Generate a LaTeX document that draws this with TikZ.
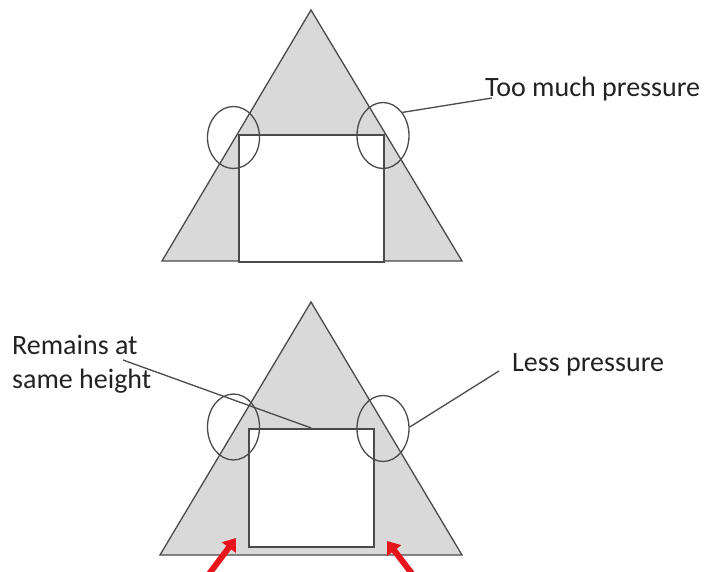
\documentclass[tikz,border=0pt]{standalone}
\usepackage{fontspec}
\setmainfont{Carlito}
\usetikzlibrary{arrows.meta,positioning,calc,shapes.geometric}
\definecolor{wedge}{HTML}{D9D9D9}
\definecolor{edge}{HTML}{4A4A4A}
\definecolor{ink}{HTML}{222222}
\definecolor{pushred}{HTML}{E8141B}

\begin{document}
\begin{tikzpicture}[x=1pt, y=-1pt,
  tri/.style={fill=wedge, draw=edge, line width=1.3pt, line join=miter},
  blockbox/.style={draw=edge, fill=white, line width=1.6pt, inner sep=0pt, anchor=north west},
  ring/.style={ellipse, draw=edge, line width=1.3pt, minimum width=52pt, inner sep=0pt},
  lbl/.style={ink, font=\fontsize{28}{34}\selectfont, inner sep=0pt},
  lead/.style={draw=edge, line width=1.3pt},
  shove/.style={pushred, line width=6pt, -{Triangle[length=12pt,width=17pt]}}]
  \useasboundingbox (0,0) rectangle (705,572);

  % before: block too tall
  \draw[tri] (311,10) -- (162,261) -- (462,261) -- cycle;
  \node[blockbox, minimum width=145pt, minimum height=127pt] (boxa) at (238,134) {};
  \node[ring, minimum height=62pt] (ringa) at (233.5,137.5) {};
  \node[ring, minimum height=66pt] (ringb) at (383,135.5) {};
  \node[lbl, anchor=base west] (toomuch) at (485,97) {Too much pressure};
  \draw[lead] (ringb.50) -- ($(toomuch.base west)+(7,1)$);

  % after: block lowered
  \draw[tri] (311,302) -- (160,555) -- (462,555) -- cycle;
  \node[blockbox, minimum width=125pt, minimum height=118pt] (boxb) at (248,428) {};
  \node[ring, minimum height=66pt] (ringc) at (233.5,427) {};
  \node[ring, minimum height=66pt] (ringd) at (383,428.5) {};
  \node[lbl, anchor=base west] (lessp) at (512,371) {Less pressure};
  \node[lbl, anchor=north west, align=left] (remains) at (12,335) {Remains at\\same height};
  \coordinate (remtail) at (123,360);
  \draw[lead] (remtail) -- (boxb.north);
  \draw[lead] (ringd.3) -- ($(lessp.base west)+(-13,0)$);

  % red arrows under the block
  \coordinate (lefttip) at (236,538);
  \coordinate (righttip) at (387,541);
  \draw[shove] (209,574) -- (lefttip);
  \draw[shove] (413,575) -- (righttip);
\end{tikzpicture}
\end{document}
